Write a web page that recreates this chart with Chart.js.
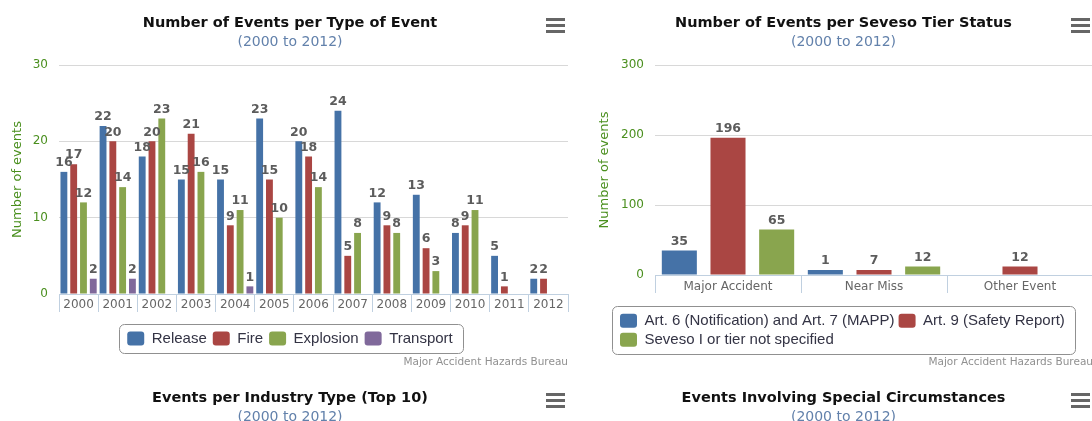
<!DOCTYPE html>
<html>
<head>
<meta charset="utf-8">
<script src="https://cdn.jsdelivr.net/npm/chart.js@4.4.0/dist/chart.umd.min.js"></script>
<style>
  html, body { margin: 0; padding: 0; background: #fff; overflow: hidden; }
  body { width: 1092px; height: 421px; position: relative; }
  .box { position: absolute; }
</style>
</head>
<body>
<div class="box" style="left:0;top:0;width:580px;height:375px"><canvas id="typeChart"></canvas></div>
<div class="box" style="left:582px;top:0;width:523px;height:375px"><canvas id="tierChart"></canvas></div>
<div class="box" style="left:0;top:375px;width:580px;height:200px"><canvas id="industryChart"></canvas></div>
<div class="box" style="left:582px;top:375px;width:523px;height:200px"><canvas id="specialChart"></canvas></div>
<script>
// chart 1 - events per type
const years = ['2000','2001','2002','2003','2004','2005','2006','2007','2008','2009','2010','2011','2012'];
const releaseEvents   = [16, 22, 18, 15, 15, 23, 20, 24, 12, 13, 8, 5, 2];
const fireEvents      = [17, 20, 20, 21, 9, 15, 18, 5, 9, 6, 9, 1, 2];
const explosionEvents = [12, 14, 23, 16, 11, 10, 14, 8, 8, 3, 11, null, null];
const transportEvents = [2, 2, null, null, 1, null, null, null, null, null, null, null, null];
const typeTicks = [0, 10, 20, 30];

// chart 2 - seveso tier
const tierCategories = ['Major Accident', 'Near Miss', 'Other Event'];
const tierArt6and7 = [35, 1, null];
const tierArt9     = [196, 7, 12];
const tierSevesoI  = [65, 12, null];
const tierTicks = [0, 100, 200, 300];

const GREEN = '#4a8f1e';
const AXIS_BLUE = '#C0D0E0';

function headings(text) {
  return {
    title: {
      display: true, text: text, color: '#111',
      font: { family: 'DejaVu Sans', size: 14.5, weight: 'bold', lineHeight: 1.2 },
      padding: { top: 14.3, bottom: 0 }
    },
    subtitle: {
      display: true, text: '(2000 to 2012)', color: '#6281ab',
      font: { family: 'DejaVu Sans', size: 14, lineHeight: 1.2 },
      padding: { top: 2.4, bottom: 14.1 }
    }
  };
}

// numbers above the bars
const valueLabels = {
  id: 'valueLabels',
  afterDatasetsDraw(chart) {
    const ctx = chart.ctx;
    ctx.save();
    ctx.font = 'bold 12.5px "DejaVu Sans"';
    ctx.fillStyle = '#5c5c5c';
    ctx.textAlign = 'center';
    ctx.textBaseline = 'middle';
    chart.data.datasets.forEach((ds, i) => {
      chart.getDatasetMeta(i).data.forEach((bar, j) => {
        const v = ds.data[j];
        if (v === null || v === undefined) return;
        ctx.fillText(String(v), bar.x, bar.y - 9);
      });
    });
    ctx.restore();
  }
};

// the little export menu button
const menuIcon = {
  id: 'menuIcon',
  afterDraw(chart) {
    const ctx = chart.ctx;
    const x = chart.width - 34;
    ctx.save();
    ctx.fillStyle = '#666';
    [18, 24, 30].forEach(y => ctx.fillRect(x, y, 19, 3));
    ctx.restore();
  }
};

const credits = {
  id: 'credits',
  afterDraw(chart) {
    const ctx = chart.ctx;
    ctx.save();
    ctx.font = '10.5px "DejaVu Sans"';
    ctx.fillStyle = '#909090';
    ctx.textAlign = 'right';
    ctx.textBaseline = 'middle';
    ctx.fillText('Major Accident Hazards Bureau', chart.chartArea.right, 362.7);
    ctx.restore();
  }
};

// border round the legend, like highcharts
const legendFrame = {
  id: 'legendFrame',
  afterUpdate(chart) {
    const cfg = chart.options.plugins.legendFrame;
    if (cfg && cfg.startX !== undefined) {
      const lg = chart.legend;
      const delta = cfg.startX - lg.options.labels.padding - lg.left;
      lg.left += delta;
      lg.legendHitBoxes.forEach(h => { h.left += delta; });
    }
  },
  afterDraw(chart) {
    const boxes = chart.legend.legendHitBoxes;
    if (!boxes || !boxes.length) return;
    let l = Infinity, r = -Infinity, t = Infinity, b = -Infinity;
    boxes.forEach(h => {
      l = Math.min(l, h.left); r = Math.max(r, h.left + h.width);
      t = Math.min(t, h.top); b = Math.max(b, h.top + h.height);
    });
    const ctx = chart.ctx;
    ctx.save();
    ctx.strokeStyle = '#909090';
    ctx.lineWidth = 1;
    ctx.beginPath();
    ctx.roundRect(Math.round(l - 8) + 0.5, Math.round(t - 7) + 0.5, Math.round(r - l + 18), Math.round(b - t + 14), 5);
    ctx.stroke();
    ctx.restore();
  }
};

function legendOpts(padding, align) {
  return {
    position: 'bottom',
    align: align,
    labels: {
      color: '#333344',
      font: { family: 'Liberation Sans', size: 15 },
      boxWidth: 17,
      boxHeight: 14,
      padding: padding,
      useBorderRadius: true,
      borderRadius: 3
    }
  };
}

function yAxis(ticks, width, titlePadTop) {
  return {
    min: ticks[0],
    max: ticks[ticks.length - 1],
    afterBuildTicks: s => { s.ticks = ticks.map(v => ({ value: v })); },
    afterFit: s => { s.width = width; },
    grid: { color: '#d8d8d8', drawTicks: false },
    border: { display: false },
    ticks: { color: GREEN, font: { family: 'DejaVu Sans', size: 12 }, padding: 11 },
    title: {
      display: true, text: 'Number of events', color: GREEN,
      font: { family: 'DejaVu Sans', size: 13, lineHeight: 1 },
      padding: { top: titlePadTop, bottom: 0 }
    }
  };
}

function xAxis(height, labelPad) {
  return {
    afterFit: s => { s.height = height; },
    grid: { drawOnChartArea: false, color: AXIS_BLUE, tickLength: 18 },
    border: { color: AXIS_BLUE },
    ticks: { color: '#666', font: { family: 'DejaVu Sans', size: 12 }, padding: labelPad, autoSkip: false, maxRotation: 0 }
  };
}

new Chart(document.getElementById('typeChart'), {
  type: 'bar',
  data: {
    labels: years,
    datasets: [
      { label: 'Release', data: releaseEvents, backgroundColor: '#4572A7' },
      { label: 'Fire', data: fireEvents, backgroundColor: '#AA4643' },
      { label: 'Explosion', data: explosionEvents, backgroundColor: '#89A54E' },
      { label: 'Transport', data: transportEvents, backgroundColor: '#80699B' }
    ]
  },
  options: {
    responsive: true,
    maintainAspectRatio: false,
    animation: false,
    layout: { padding: { top: 0, left: 12, right: 12, bottom: 19 } },
    datasets: { bar: { categoryPercentage: 1.0, barPercentage: 0.7, borderWidth: 0 } },
    plugins: Object.assign(headings('Number of Events per Type of Event'), {
      legend: legendOpts(6, 'center'),
      tooltip: { enabled: false }
    }),
    scales: {
      x: xAxis(31, -14.2),
      y: yAxis(typeTicks, 47, -1)
    }
  },
  plugins: [valueLabels, menuIcon, credits, legendFrame]
});

new Chart(document.getElementById('tierChart'), {
  type: 'bar',
  data: {
    labels: tierCategories,
    datasets: [
      { label: 'Art. 6 (Notification) and Art. 7 (MAPP)', data: tierArt6and7, backgroundColor: '#4572A7' },
      { label: 'Art. 9 (Safety Report)', data: tierArt9, backgroundColor: '#AA4643' },
      { label: 'Seveso I or tier not specified', data: tierSevesoI, backgroundColor: '#89A54E' }
    ]
  },
  options: {
    responsive: true,
    maintainAspectRatio: false,
    animation: false,
    layout: { padding: { top: 0, left: 12, right: 12, bottom: 17.8 } },
    datasets: { bar: { categoryPercentage: 1.0, barPercentage: 0.72, borderWidth: 0, minBarLength: 5 } },
    plugins: Object.assign(headings('Number of Events per Seveso Tier Status'), {
      legend: legendOpts(4, 'start'),
      legendFrame: { startX: 38 },
      tooltip: { enabled: false }
    }),
    scales: {
      x: xAxis(34.2, -13.2),
      y: yAxis(tierTicks, 61, 4.5)
    }
  },
  plugins: [valueLabels, menuIcon, credits, legendFrame]
});

// the next two charts only show their headings inside the window
function headingOnly(id, text) {
  new Chart(document.getElementById(id), {
    type: 'bar',
    data: { labels: [], datasets: [] },
    options: {
      responsive: true,
      maintainAspectRatio: false,
      animation: false,
      layout: { padding: { top: 0, left: 12, right: 12, bottom: 0 } },
      plugins: Object.assign(headings(text), { legend: { display: false }, tooltip: { enabled: false } }),
      scales: { x: { display: false }, y: { display: false } }
    },
    plugins: [menuIcon]
  });
}
headingOnly('industryChart', 'Events per Industry Type (Top 10)');
headingOnly('specialChart', 'Events Involving Special Circumstances');
</script>
</body>
</html>
